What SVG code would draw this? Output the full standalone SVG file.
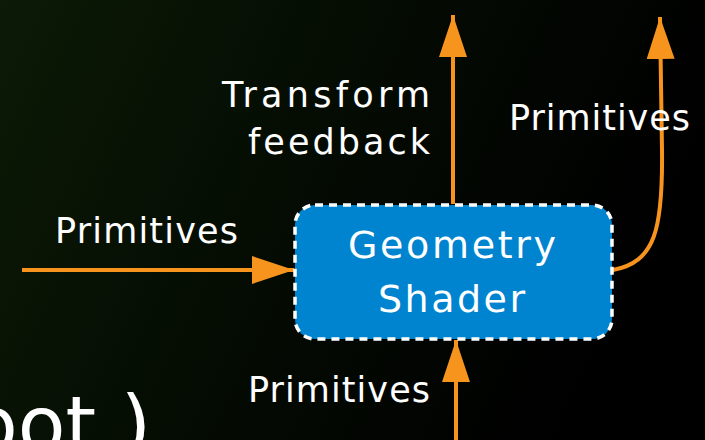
<svg xmlns="http://www.w3.org/2000/svg" width="705" height="440" viewBox="0 0 705 440">
<defs>
<linearGradient id="bg" x1="0" y1="0" x2="1" y2="0.3">
<stop offset="0" stop-color="#0c1a06"/>
<stop offset="0.45" stop-color="#050d03"/>
<stop offset="1" stop-color="#000000"/>
</linearGradient>
<marker id="ah" viewBox="0 0 42 28" refX="42" refY="14" markerWidth="42" markerHeight="28" markerUnits="userSpaceOnUse" orient="auto">
<path d="M0,0 L42,14 L0,28 Z" fill="#f7941d"/>
</marker>
<style>
text{font-variant-ligatures:none;font-feature-settings:"liga" 0;font-family:"DejaVu Sans",sans-serif;fill:#ffffff;}
.lbl{font-size:35px;}
.conn{stroke:#f7941d;stroke-width:4;fill:none;}
.gs{font-size:38px;}
</style>
</defs>
<rect width="705" height="440" fill="url(#bg)"/>
<text x="-30" y="452" font-size="78">oot.)</text>
<g id="connectors">
<path class="conn" d="M22,270 L294,270" marker-end="url(#ah)"/>
<path class="conn" d="M453,204 L453,15" marker-end="url(#ah)"/>
<path class="conn" d="M456,440 L456,340" marker-end="url(#ah)"/>
<path class="conn" d="M613,270 C655,262 663,230 662,150 L660,17" marker-end="url(#ah)"/>
</g>
<g id="labels">
<text class="lbl" x="222" y="107" textLength="208" lengthAdjust="spacing">Transform</text>
<text class="lbl" x="248" y="154" textLength="182" lengthAdjust="spacing">feedback</text>
<text class="lbl" x="55" y="243" textLength="183" lengthAdjust="spacing">Primitives</text>
<text class="lbl" x="248" y="402" textLength="182" lengthAdjust="spacing">Primitives</text>
<text class="lbl" x="509" y="130" textLength="181" lengthAdjust="spacing">Primitives</text>
</g>
<g id="geometry-shader">
<rect x="295" y="205" width="317" height="134" rx="20" fill="#0084cf" stroke="#ffffff" stroke-width="3.5" stroke-dasharray="8,6"/>
<text class="gs" x="348" y="258" textLength="208" lengthAdjust="spacing">Geometry</text>
<text class="gs" x="378" y="312" textLength="147" lengthAdjust="spacing">Shader</text>
</g>
</svg>
